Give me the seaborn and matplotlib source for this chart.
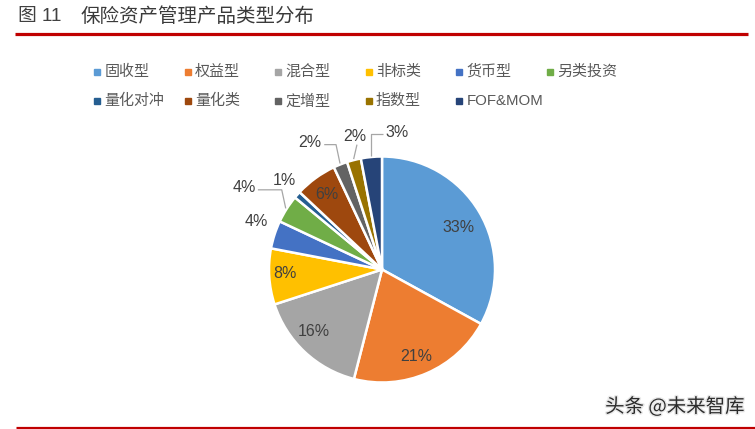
import matplotlib
matplotlib.use('Agg')
import matplotlib.pyplot as plt
import matplotlib.patheffects as pe
import seaborn as sns
import numpy as np

# ---- data ----
categories = ['固收型', '权益型', '混合型', '非标类', '货币型', '另类投资',
              '量化对冲', '量化类', '定增型', '指数型', 'FOF&MOM']
shares = [33, 21, 16, 8, 4, 4, 1, 6, 2, 2, 3]
pct_labels = [f'{v}%' for v in shares]
title_no = '图 11'
title_text = '保险资产管理产品类型分布'
watermark = '头条 @未来智库'

# ---- style ----
colors = ['#5B9BD5', '#ED7D31', '#A5A5A5', '#FFC000', '#4472C4', '#70AD47',
          '#255E91', '#9E480E', '#636363', '#997300', '#264478']
lab_r = [0.77, 0.83, 0.82, 0.86, 1.19, 1.42, 1.17, 0.82, 1.29, 1.20, 1.22]
lab_da = [-2, -2, -4.5, -1.5, -2.7, 1.8, -1, 0.4, 7.9, -2.9, -11.6]
leader = [None, None, None, None, None, 'h', None, None, 'h', 'v', 'h']

sns.set_theme(style='white')
plt.rcParams['font.family'] = ['Liberation Sans', 'Noto Sans CJK SC', 'DejaVu Sans']

W, H = 755, 429
fig = plt.figure(figsize=(W / 100, H / 100), dpi=100)
fig.patch.set_facecolor('white')
ax = fig.add_axes([0, 0, 1, 1])

cx, cy, R = 382, H - 269.5, 113
palette = sns.color_palette(colors)
wedges, _ = ax.pie(shares, colors=palette, startangle=90, counterclock=False,
                   center=(cx, cy), radius=R,
                   wedgeprops=dict(edgecolor='white', linewidth=1.8))
ax.set_xlim(0, W)
ax.set_ylim(0, H)
ax.set_aspect('auto')
ax.axis('off')

for w, lbl, r, da, ld in zip(wedges, pct_labels, lab_r, lab_da, leader):
    mid = (w.theta1 + w.theta2) / 2
    a = np.deg2rad(mid + da)
    tx, ty = cx + r * R * np.cos(a), cy + r * R * np.sin(a)
    ax.text(tx, ty, lbl, ha='center', va='center', fontsize=11.5,
            color='#404040', family=['Liberation Sans'])
    if ld:
        am = np.deg2rad(mid)
        ex, ey = cx + (R + 1) * np.cos(am), cy + (R + 1) * np.sin(am)
        if ld == 'h':
            side = 1 if ex > tx else -1
            sx = tx + side * 14
            sy = ty - 2
            elx = ex - side * 4 if abs(ex - sx) > 12 else ex
            xs, ys = [sx, elx, ex], [sy, sy, ey]
        else:
            xs, ys = [tx + 2, ex], [ty - 8, ey]
        ax.plot(xs, ys, color='#A6A6A6', lw=0.9, solid_capstyle='butt')

# ---- legend (Excel-like equal spacing) ----
for i, (cat, col) in enumerate(zip(categories, colors)):
    c, rrow = i % 6, i // 6
    x0 = 97.3 + 90.5 * c
    y0 = H - (71.5 + 29.5 * rrow)
    ax.plot([x0], [y0], marker='s', ms=3.8, color=col, ls='none')
    ax.text(x0 + 7, y0, cat, ha='left', va='center', fontsize=10.8,
            color='#595959')

# ---- title and rules ----
fig.text(18 / W, 1 - 17 / H, title_no, fontsize=13.5, color='#404040',
         ha='left', va='center')
fig.text(81 / W, 1 - 17 / H, title_text, fontsize=14, color='#3a3a3a',
         ha='left', va='center', family=['Noto Sans CJK SC'])
ax.plot([15, 748], [H - 33.5, H - 33.5], color='#C00000', lw=2.3,
        solid_capstyle='butt')
ax.plot([16, W], [H - 427.5, H - 427.5], color='#C00000', lw=2.3,
        solid_capstyle='butt')

fig.text(745 / W, 1 - 407 / H, watermark, fontsize=14, color='#2b2b2b',
         ha='right', va='center', family=['Noto Sans CJK SC', 'DejaVu Sans'],
         path_effects=[pe.withStroke(linewidth=2, foreground='#e8e8e8')])

fig.savefig('out.png', dpi=100, facecolor='white')
